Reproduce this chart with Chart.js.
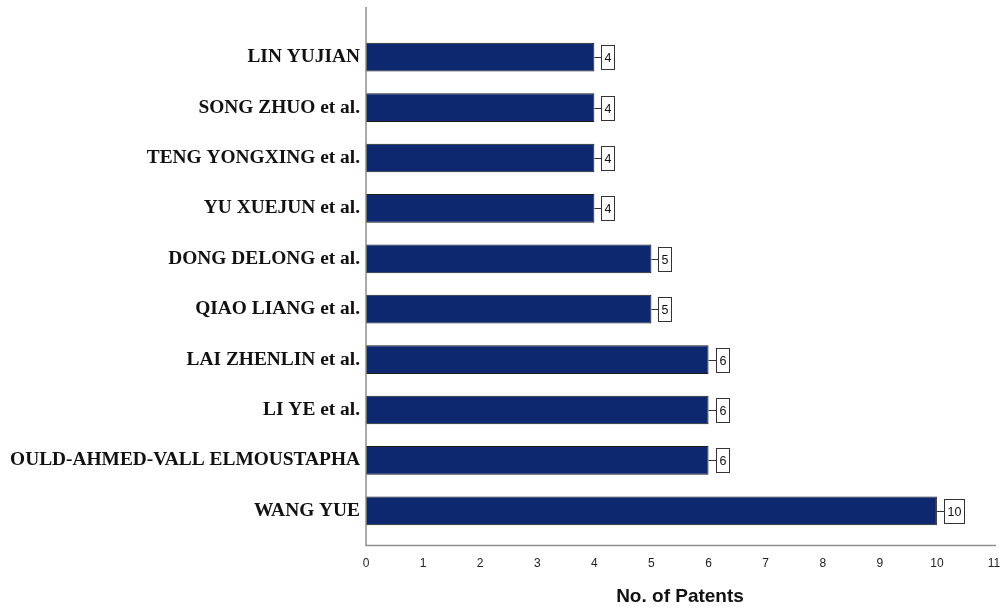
<!DOCTYPE html>
<html>
<head>
<meta charset="utf-8">
<script src="https://cdn.jsdelivr.net/npm/chart.js@4"></script>
<style>
  html, body { margin: 0; padding: 0; background: #fff; }
  #wrap { width: 1003px; height: 611px; }
</style>
</head>
<body>
<div id="wrap"><canvas id="myChart" width="1003" height="611"></canvas></div>
<script>
// data
var inventors = [
  "LIN YUJIAN",
  "SONG ZHUO et al.",
  "TENG YONGXING et al.",
  "YU XUEJUN et al.",
  "DONG DELONG et al.",
  "QIAO LIANG et al.",
  "LAI ZHENLIN et al.",
  "LI YE et al.",
  "OULD-AHMED-VALL ELMOUSTAPHA",
  "WANG YUE"
];
var patents = [4, 4, 4, 4, 5, 5, 6, 6, 6, 10];
var xTicks = [0, 1, 2, 3, 4, 5, 6, 7, 8, 9, 10, 11];

// axis lines + boxed value labels
var boxLabels = {
  id: "boxLabels",
  afterDraw: function (chart) {
    var ctx = chart.ctx;
    var area = chart.chartArea;
    ctx.save();
    ctx.strokeStyle = "#8f8f8f";
    ctx.lineWidth = 1.5;
    ctx.beginPath();
    ctx.moveTo(area.left, 7);
    ctx.lineTo(area.left, 545.5);
    ctx.lineTo(996, 545.5);
    ctx.stroke();

    ctx.font = "12.5px 'Liberation Sans', Arial, sans-serif";
    ctx.textAlign = "center";
    ctx.textBaseline = "middle";
    var meta = chart.getDatasetMeta(0);
    meta.data.forEach(function (bar, i) {
      var txt = String(patents[i]);
      var w = Math.round(ctx.measureText(txt).width + 6);
      var h = 24;
      var bx = Math.round(bar.x + 7);
      var cy = Math.round(bar.y);
      ctx.strokeStyle = "#333";
      ctx.lineWidth = 1;
      ctx.beginPath();
      ctx.moveTo(bar.x, cy + 0.5);
      ctx.lineTo(bx, cy + 0.5);
      ctx.stroke();
      ctx.fillStyle = "#fff";
      ctx.fillRect(bx, cy - h / 2, w, h);
      ctx.strokeRect(bx + 0.5, cy - h / 2 + 0.5, w, h);
      ctx.fillStyle = "#111";
      ctx.fillText(txt, bx + w / 2 + 0.5, cy + 2);
    });
    ctx.restore();
  }
};

var ctx = document.getElementById("myChart").getContext("2d");
var myChart = new Chart(ctx, {
  type: "bar",
  data: {
    labels: inventors,
    datasets: [
      {
        label: "No. of Patents",
        data: patents,
        backgroundColor: "#0e2870",
        borderColor: "#1b1b1b",
        borderWidth: 1,
        borderSkipped: false,
        barPercentage: 0.57,
        categoryPercentage: 1
      }
    ]
  },
  options: {
    indexAxis: "y",
    responsive: false,
    animation: false,
    layout: { padding: { top: 32, right: 9, left: 0, bottom: 0 } },
    plugins: {
      legend: { display: false },
      tooltip: { enabled: false }
    },
    scales: {
      x: {
        type: "linear",
        min: 0,
        max: 11,
        afterBuildTicks: function (scale) {
          scale.ticks = xTicks.map(function (v) { return { value: v }; });
        },
        afterFit: function (scale) {
          scale.height = 75;
          scale.paddingLeft = 0;
          scale.paddingRight = 0;
        },
        grid: { display: false, drawTicks: false },
        border: { display: false },
        ticks: {
          padding: 20,
          color: "#222",
          font: { family: "'Liberation Sans', Arial, sans-serif", size: 12 }
        },
        title: {
          display: true,
          text: "No. of Patents",
          color: "#111",
          padding: { top: 0, bottom: 3 },
          font: { family: "'Liberation Sans', Arial, sans-serif", size: 19, weight: "bold" }
        }
      },
      y: {
        afterFit: function (scale) { scale.width = 366; },
        grid: { display: false, drawTicks: false },
        border: { display: false },
        ticks: {
          padding: 6,
          color: "#111",
          font: { family: "'Liberation Serif', 'Times New Roman', serif", size: 19.4, weight: "bold" }
        }
      }
    }
  },
  plugins: [boxLabels]
});
</script>
</body>
</html>
